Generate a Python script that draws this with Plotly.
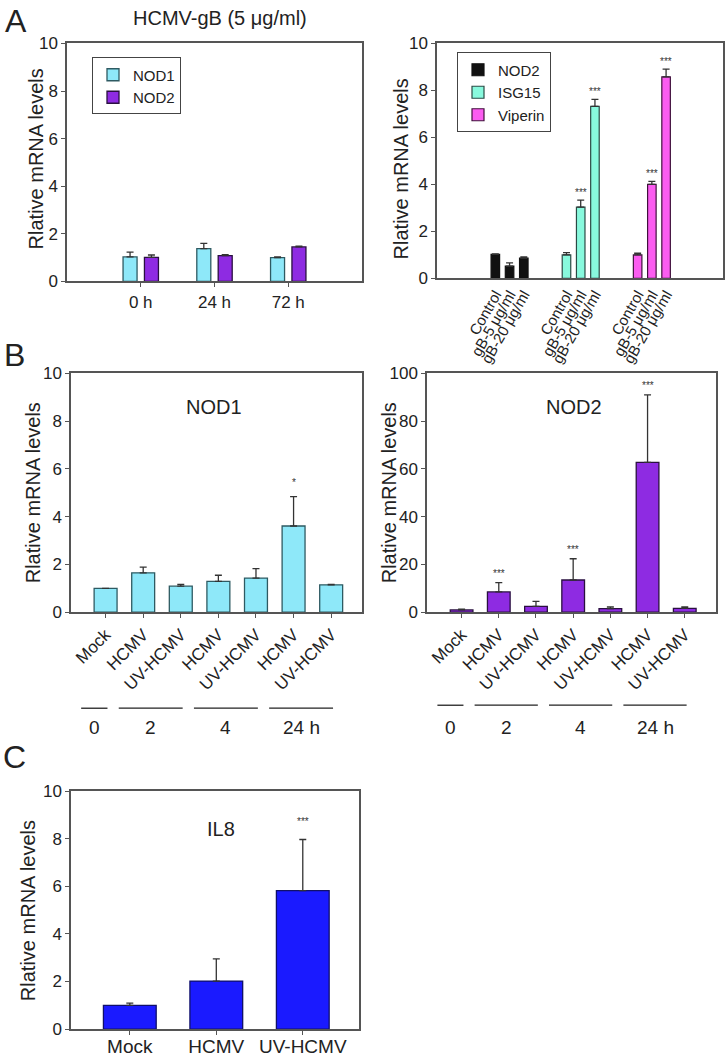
import plotly.graph_objects as go

# ---- data -------------------------------------------------------------
A_TIMES = ["0 h", "24 h", "72 h"]
A_NOD1 = [1.03, 1.38, 1.0]
A_NOD1_ERR = [0.2, 0.22, 0.03]
A_NOD2 = [1.01, 1.08, 1.45]
A_NOD2_ERR = [0.1, 0.04, 0.03]

AR_LABELS = ["Control", "gB-5 \u03bcg/ml", "gB-20 \u03bcg/ml"]
AR_GENES = ["NOD2", "ISG15", "Viperin"]
AR_NOD2 = [1.02, 0.52, 0.86]
AR_NOD2_ERR = [0.02, 0.14, 0.05]
AR_ISG15 = [1.0, 3.03, 7.32]
AR_ISG15_ERR = [0.1, 0.3, 0.3]
AR_VIPERIN = [1.0, 4.0, 8.58]
AR_VIPERIN_ERR = [0.07, 0.13, 0.33]
AR_ISG15_STARS = ["", "***", "***"]
AR_VIPERIN_STARS = ["", "***", "***"]

B_LABELS = ["Mock", "HCMV", "UV-HCMV", "HCMV", "UV-HCMV", "HCMV", "UV-HCMV"]
B_NOD1 = [1.0, 1.65, 1.09, 1.29, 1.43, 3.61, 1.15]
B_NOD1_ERR = [0.0, 0.24, 0.08, 0.26, 0.4, 1.23, 0.02]
B_NOD1_STARS = ["", "", "", "", "", "*", ""]
B_NOD2 = [1.0, 8.5, 2.5, 13.5, 1.5, 62.7, 1.6]
B_NOD2_ERR = [0.3, 3.9, 2.1, 8.9, 0.7, 28.3, 0.6]
B_NOD2_STARS = ["", "***", "", "***", "", "***", ""]
GROUP_LABELS = ["0", "2", "4", "24 h"]
GROUP_START = [0, 1, 3, 5]
GROUP_END = [0, 2, 4, 6]

C_LABELS = ["Mock", "HCMV", "UV-HCMV"]
C_IL8 = [1.0, 2.02, 5.82]
C_IL8_ERR = [0.09, 0.93, 2.15]
C_IL8_STARS = ["", "", "***"]

YTITLE = "Rlative mRNA levels"

# ---- style -------------------------------------------------------------
W, H = 728, 1062
FONT = "Liberation Sans, Arial, sans-serif"
INK = "#222222"
FRAME = "#555555"
CYAN = "#8ee8f9"
PURPLE = "#8e2be2"
AQUA = "#88f9dd"
MAGENTA = "#fb5cf0"
BLUE = "#1a1aff"

# the captured page comes out slightly squeezed / shifted vertically
Y_OFF, Y_SCALE = 8.5, 0.9825


def fy(y):
    return (y - Y_OFF) / Y_SCALE


def px_x(a, b):
    return [a / W, b / W]


def px_y(top, bottom):
    return [1 - fy(bottom) / H, 1 - fy(top) / H]


def err(values):
    return dict(type="data", array=values, arrayminus=[0] * len(values),
                symmetric=False, color="#333333", thickness=1.3, width=3.5)


fig = go.Figure()
annotations = []

# panel A left
off = [-0.24, 0.05]
for i, (name, vals, e, col, edge) in enumerate([
        ("NOD1", A_NOD1, A_NOD1_ERR, CYAN, "#2e5a62"),
        ("NOD2", A_NOD2, A_NOD2_ERR, PURPLE, "#2a1040")]):
    fig.add_trace(go.Bar(
        x=list(range(len(A_TIMES))), y=vals, name=name, width=0.19, offset=off[i],
        marker=dict(color=col, line=dict(color=edge, width=1.3)),
        error_y=err(e), xaxis="x", yaxis="y", legend="legend"))

# panel A right
ar_sets = [(AR_NOD2, AR_NOD2_ERR, "#111111", "#111111", [""] * 3),
           (AR_ISG15, AR_ISG15_ERR, AQUA, "#2a4a44", AR_ISG15_STARS),
           (AR_VIPERIN, AR_VIPERIN_ERR, MAGENTA, "#40103c", AR_VIPERIN_STARS)]
ar_pos = []
ar_text = []
for g, (gene, (vals, e, col, edge, stars)) in enumerate(zip(AR_GENES, ar_sets)):
    pos = [g * 5 + i for i in range(len(AR_LABELS))]
    ar_pos += pos
    ar_text += AR_LABELS
    fig.add_trace(go.Bar(
        x=pos, y=vals, name=gene, width=0.6, offset=-0.3,
        marker=dict(color=col, line=dict(color=edge, width=1.2)),
        error_y=err(e), xaxis="x2", yaxis="y2", legend="legend2"))
    for p, v, ee, s in zip(pos, vals, e, stars):
        if s:
            annotations.append(dict(x=p, y=v + ee, xref="x2", yref="y2", text=s,
                                    showarrow=False, yanchor="bottom", yshift=0,
                                    font=dict(size=10, color="#333333", family=FONT)))


def panel_bars(vals, e, stars, col, edge, ax, shift):
    pos = list(range(len(vals)))
    fig.add_trace(go.Bar(
        x=pos, y=vals, width=0.61, offset=-0.305, showlegend=False,
        marker=dict(color=col, line=dict(color=edge, width=1.3)),
        error_y=err(e), xaxis="x" + ax, yaxis="y" + ax))
    for p, v, ee, s in zip(pos, vals, e, stars):
        if s:
            annotations.append(dict(x=p, y=v + ee, xref="x" + ax, yref="y" + ax, text=s,
                                    showarrow=False, yanchor="bottom", yshift=shift,
                                    font=dict(size=10, color="#333333", family=FONT)))


panel_bars(B_NOD1, B_NOD1_ERR, B_NOD1_STARS, CYAN, "#2e5a62", "3", 7)
panel_bars(B_NOD2, B_NOD2_ERR, B_NOD2_STARS, PURPLE, "#2a1040", "4", 2)
panel_bars(C_IL8, C_IL8_ERR, C_IL8_STARS, BLUE, "#10106a", "5", 10)

# ---- axes -------------------------------------------------------------
frame = dict(showline=True, mirror=True, linecolor=FRAME, linewidth=1.5,
             showgrid=False, zeroline=False, ticks="outside", ticklen=4,
             tickcolor=FRAME, tickfont=dict(size=17, color=INK, family=FONT))
ycommon = dict(frame, range=[0, 10], dtick=2)

fig.update_layout(
    width=W, height=H, margin=dict(l=0, r=0, t=0, b=0),
    paper_bgcolor="white", plot_bgcolor="white", barmode="overlay",
    font=dict(family=FONT, color=INK),
    xaxis=dict(frame, domain=px_x(67, 362), range=[-1, 3], anchor="y",
               tickvals=list(range(len(A_TIMES))), ticktext=A_TIMES),
    yaxis=dict(ycommon, domain=px_y(43, 281), anchor="x"),
    xaxis2=dict(frame, domain=px_x(437, 723), range=[-4.1, 16], anchor="y2",
                tickvals=ar_pos, ticktext=ar_text, ticks="", tickangle=-60,
                tickfont=dict(size=15, color=INK, family=FONT)),
    xaxis6=dict(overlaying="x2", anchor="y2", range=[-4.1, 16], showline=False,
                showgrid=False, zeroline=False, ticks="outside", ticklen=4,
                tickcolor=FRAME, tickvals=[g * 5 + 1 for g in range(len(AR_GENES))],
                showticklabels=False),
    yaxis2=dict(ycommon, domain=px_y(43, 278), anchor="x2"),
    xaxis3=dict(frame, domain=px_x(71, 362), range=[-0.92, 6.82], anchor="y3",
                tickvals=list(range(len(B_LABELS))), ticktext=B_LABELS, tickangle=-45,
                tickfont=dict(size=17, color=INK, family=FONT)),
    yaxis3=dict(ycommon, domain=px_y(373, 612), anchor="x3"),
    xaxis4=dict(frame, domain=px_x(427, 716), range=[-0.93, 6.84], anchor="y4",
                tickvals=list(range(len(B_LABELS))), ticktext=B_LABELS, tickangle=-45,
                tickfont=dict(size=17, color=INK, family=FONT)),
    yaxis4=dict(frame, domain=px_y(373, 612), anchor="x4", range=[0, 100], dtick=20),
    xaxis5=dict(frame, domain=px_x(71, 359), range=[-0.68, 2.65], anchor="y5",
                tickvals=list(range(len(C_LABELS))), ticktext=C_LABELS,
                ticklabelstandoff=-5,
                tickfont=dict(size=19, color=INK, family=FONT)),
    yaxis5=dict(ycommon, domain=px_y(791, 1029), anchor="x5"),
    legend=dict(x=92 / W, y=1 - fy(57) / H, xanchor="left", yanchor="top",
                bgcolor="white", bordercolor="#444444", borderwidth=1,
                font=dict(size=15, color=INK, family=FONT), itemwidth=30),
    legend2=dict(x=457 / W, y=1 - fy(52) / H, xanchor="left", yanchor="top",
                 bgcolor="white", bordercolor="#444444", borderwidth=1,
                 font=dict(size=15, color=INK, family=FONT), itemwidth=30),
)


# ---- texts ------------------------------------------------------------
def paper_text(text, x, y, size, angle=0):
    annotations.append(dict(text=text, x=x / W, y=1 - fy(y) / H, xref="paper",
                            yref="paper", showarrow=False, xanchor="center",
                            yanchor="middle", textangle=angle,
                            font=dict(size=size, color=INK, family=FONT)))


paper_text("A", 16, 21, 32)
paper_text("B", 14, 355, 32)
paper_text("C", 14, 757, 32)
paper_text("HCMV-gB (5 \u03bcg/ml)", 220, 18, 20)

# y-axis titles
for x, y in [(36, 159), (401, 169), (33, 493), (389, 493), (28, 911)]:
    paper_text(YTITLE, x, y, 20, -90)

for ax, label, x, y in [("x3", "NOD1", 0.49, 0.915), ("x4", "NOD2", 0.51, 0.915),
                        ("x5", "IL8", 0.52, 0.895)]:
    annotations.append(dict(text=label, x=x, y=y, xref=ax + " domain",
                            yref="y" + ax[1:] + " domain", showarrow=False,
                            font=dict(size=20, color=INK, family=FONT)))

shapes = []
for ax, line_y in [("x3", 708), ("x4", 705)]:
    for lab, s, e in zip(GROUP_LABELS, GROUP_START, GROUP_END):
        x0, x1 = s - 0.65, e + 0.05
        shapes.append(dict(type="line", xref=ax, yref="paper", x0=x0, x1=x1,
                           y0=1 - fy(line_y) / H, y1=1 - fy(line_y) / H,
                           line=dict(color=INK, width=1.3)))
        annotations.append(dict(text=lab, x=(x0 + x1) / 2, y=1 - fy(727) / H, xref=ax,
                                yref="paper", showarrow=False, yanchor="middle",
                                font=dict(size=19, color=INK, family=FONT)))

fig.update_layout(annotations=annotations, shapes=shapes)
fig.write_html("out.html", config={"displayModeBar": False},
               post_script="document.body.style.margin = '0px';")
